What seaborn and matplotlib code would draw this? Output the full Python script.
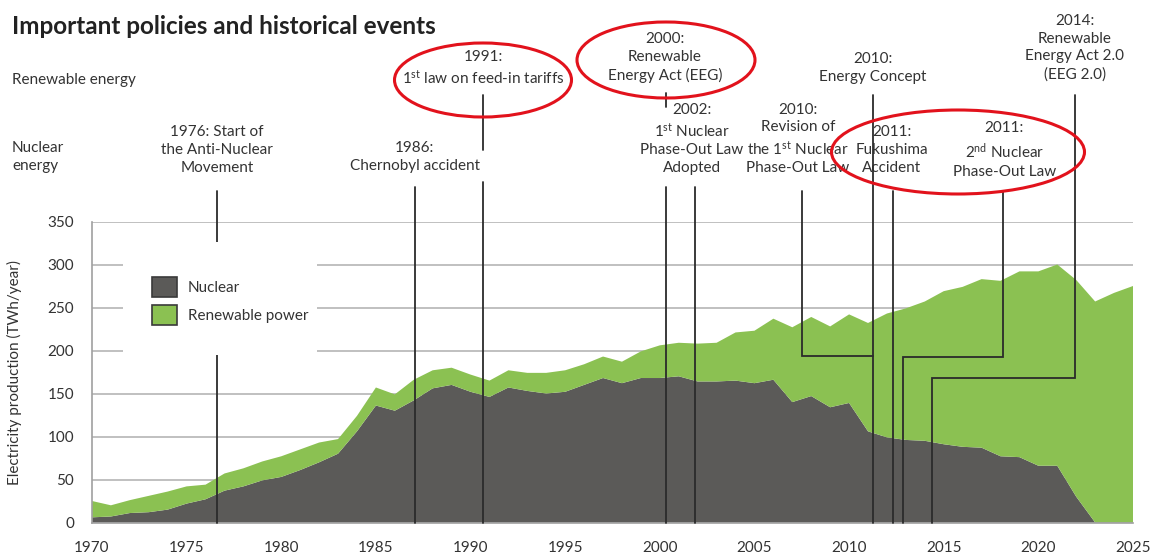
import matplotlib
matplotlib.use("Agg")
import matplotlib.pyplot as plt
import seaborn as sns
from matplotlib.patches import Patch, Rectangle, Ellipse

# -----------------------------
# Data
# -----------------------------
years = list(range(1970, 2026))
nuclear = [6, 7, 11, 12, 15, 22, 27, 37, 42, 49,
           53, 61, 70, 80, 106, 136, 130, 142, 156, 160,
           152, 146, 157, 153, 150, 152, 160, 168, 162, 168,
           168, 170, 164, 164, 165, 162, 166, 140, 147, 134,
           139, 106, 99, 96, 95, 91, 88, 87, 77, 76,
           66, 66, 30, 0, 0, 0]
renewable = [19, 13, 15, 19, 21, 20, 17, 20, 21, 22,
             24, 24, 23, 17, 18, 21, 19, 24, 21, 20,
             20, 19, 20, 21, 24, 25, 24, 25, 25, 31,
             38, 39, 44, 45, 56, 61, 71, 87, 92, 94,
             103, 126, 144, 153, 162, 178, 186, 196, 204, 216,
             226, 234, 252, 257, 267, 275]
series_labels = ["Nuclear", "Renewable power"]
yticks = [0, 50, 100, 150, 200, 250, 300, 350]
xticks = [1970, 1975, 1980, 1985, 1990, 1995, 2000, 2005, 2010, 2015, 2020, 2025]

# event texts: (label, x year, y centre)
event_texts = [
    ("1976: Start of\nthe Anti-Nuclear\nMovement", 1976.6, 433),
    ("1986:\nChernobyl accident", 1987.06, 425),
    ("1991:\n1$^{\\rm st}$ law on feed-in tariffs", 1990.66, 528),
    ("2000:\nRenewable\nEnergy Act (EEG)", 2000.27, 541),
    ("2002:\n1$^{\\rm st}$ Nuclear\nPhase-Out Law\nAdopted", 2001.7, 446),
    ("2010:\nRevision of\nthe 1$^{\\rm st}$ Nuclear\nPhase-Out Law", 2007.3, 446),
    ("2010:\nEnergy Concept", 2011.26, 528),
    ("2011:\nFukushima\nAccident", 2012.26, 433),
    ("2011:\n2$^{\\rm nd}$ Nuclear\nPhase-Out Law", 2018.2, 433),
    ("2014:\nRenewable\nEnergy Act 2.0\n(EEG 2.0)", 2021.93, 552),
]

# connector paths for the events: list of (xs, ys)
event_paths = [
    ([1976.6, 1976.6], [386, 0]),
    ([1987.06, 1987.06], [390, 0]),
    ([1990.67, 1990.67], [497, 433]),
    ([1990.67, 1990.67], [396, 0]),
    ([2000.32, 2000.32], [500, 483]),
    ([2000.32, 2000.32], [390, 0]),
    ([2001.85, 2001.85], [390, 0]),
    ([2007.49, 2007.49, 2011.26], [386, 194, 194]),
    ([2011.26, 2011.26], [497, 0]),
    ([2012.33, 2012.33], [386, 0]),
    ([2018.11, 2018.11, 2012.86, 2012.86], [386, 193, 193, 0]),
    ([2021.93, 2021.93, 2014.36, 2014.36], [497, 168, 168, 0]),
]

# red highlight ellipses: (x px, y px, w px, h px)
highlights = [(483, 80, 177, 74), (666, 60, 178, 76), (958, 152, 253, 84)]

nuclear_color = "#5b5a58"
renew_color = "#8bc152"
text_color = "#333333"

sns.set_theme(style="white")
plt.rcParams["font.family"] = ["Lato", "DejaVu Sans"]
plt.rcParams["mathtext.fontset"] = "custom"
plt.rcParams["mathtext.rm"] = "Lato"
plt.rcParams["mathtext.it"] = "Lato:italic"
plt.rcParams["mathtext.bf"] = "Lato:bold"

W, H = 1154, 556
fig = plt.figure(figsize=(W / 100, H / 100), dpi=100)
ax = fig.add_axes([92 / W, 1 - 522.5 / H, 1041 / W, 301 / H])

ax.stackplot(years, nuclear, renewable, colors=[nuclear_color, renew_color],
             labels=series_labels, linewidth=0, edgecolor="none", zorder=2)

ax.set_xlim(1970, 2025)
ax.set_ylim(0, 350)
ax.set_xticks(xticks)
ax.set_yticks(yticks)
ax.yaxis.grid(True, color="#b5b5b5", lw=1.2, zorder=0)
ax.set_axisbelow(True)
ax.tick_params(length=0, labelsize=11, labelcolor=text_color, pad=13)
sns.despine(ax=ax, top=True, right=True)
for side in ["left", "bottom"]:
    ax.spines[side].set_color("#a0a0a0")
    ax.spines[side].set_linewidth(1.2)
ax.set_ylabel("Electricity production (TWh/year)", fontsize=11, color=text_color)
ax.yaxis.set_label_coords(-0.067, 0.5)

# event lines
for xs, ys in event_paths:
    ax.plot(xs, ys, color="#2b2b2b", lw=1.3, clip_on=False, zorder=4,
            solid_joinstyle="miter")

# white box behind the legend
ax.add_patch(Rectangle((1971.64, 195), 10.25, 131, facecolor="white",
                       edgecolor="none", zorder=5))
handles = [Patch(facecolor=nuclear_color, edgecolor="#3a3a3a", lw=1.2),
           Patch(facecolor=renew_color, edgecolor="#3a3a3a", lw=1.2)]
leg = ax.legend(handles, series_labels, loc="upper left",
                bbox_to_anchor=(0.05, 0.842), frameon=False, borderpad=0,
                handlelength=1.65, handleheight=1.65, labelspacing=0.55,
                handletextpad=0.7, fontsize=11, labelcolor=text_color)
leg.set_zorder(6)

# event texts
for label, x, y in event_texts:
    ax.text(x, y, label, ha="center", va="center", fontsize=11,
            color=text_color, linespacing=1.35, clip_on=False)

ax.text(1965.77, 514, "Renewable energy", ha="left", va="center",
        fontsize=11, color=text_color, clip_on=False)
ax.text(1965.77, 425, "Nuclear\nenergy", ha="left", va="center",
        fontsize=11, color=text_color, linespacing=1.35, clip_on=False)

fig.text(12 / W, 1 - 26 / H, "Important policies and historical events",
         ha="left", va="center", fontsize=17.5, fontweight="bold", color="#222222")

for x, y, w, h in highlights:
    fig.add_artist(Ellipse((x / W, 1 - y / H), w / W, h / H,
                           transform=fig.transFigure, fill=False,
                           edgecolor="#e2121c", lw=2.2))

fig.savefig("out.png", dpi=100)
